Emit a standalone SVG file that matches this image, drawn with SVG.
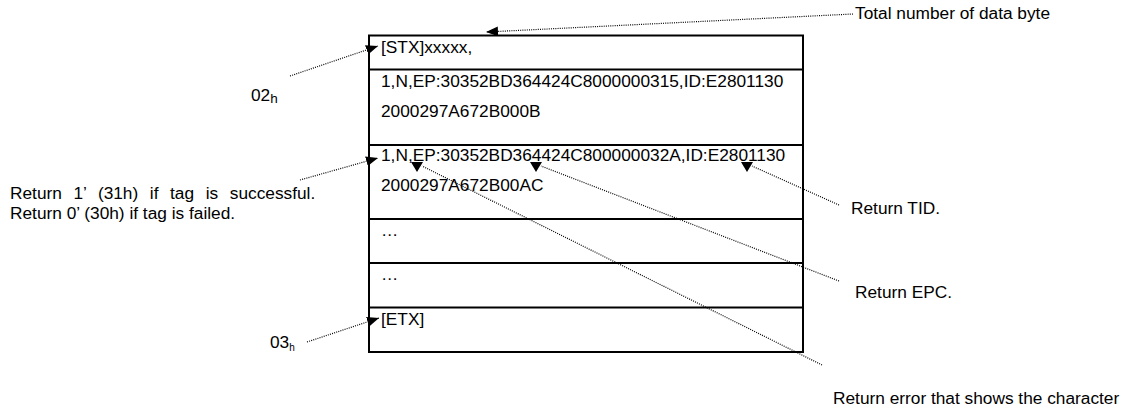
<svg xmlns="http://www.w3.org/2000/svg" width="1127" height="411" viewBox="0 0 1127 411">
<style>
text{font-family:"Liberation Sans",Arial,sans-serif;font-size:17.3px;fill:#000}
.box{fill:#fff;stroke:#000;stroke-width:2}
.div{stroke:#000;stroke-width:2}
.dot{fill:none;stroke:#000;stroke-width:1.2;stroke-dasharray:1 1.2}
</style>
<defs>
<marker id="ah" markerUnits="userSpaceOnUse" markerWidth="13" markerHeight="11" refX="12" refY="5" orient="auto">
<path d="M0,0 L12,5 L0,10 z" fill="#000"/>
</marker>
<marker id="ahdown" markerUnits="userSpaceOnUse" markerWidth="13" markerHeight="11" refX="11" refY="4" orient="0">
<path d="M0,0 L12,0 L6,10 z" fill="#000"/>
</marker>
</defs>
<rect width="1127" height="411" fill="#fff"/>
<g id="frame">
<rect class="box" x="369" y="35.5" width="434" height="316.5"/>
<line class="div" x1="369" y1="69.5" x2="803" y2="69.5"/>
<line class="div" x1="369" y1="145" x2="803" y2="145"/>
<line class="div" x1="369" y1="219" x2="803" y2="219"/>
<line class="div" x1="369" y1="263" x2="803" y2="263"/>
<line class="div" x1="369" y1="307.5" x2="803" y2="307.5"/>
</g>
<g id="row-stx"><text x="381" y="53">[STX]xxxxx,</text></g>
<g id="row-tag1"><text x="381" y="87">1,N,EP:30352BD364424C8000000315,ID:E2801130</text><text x="381" y="117">2000297A672B000B</text></g>
<g id="row-tag2"><text x="381" y="161">1,N,EP:30352BD364424C800000032A,ID:E2801130</text><text x="381" y="191">2000297A672B00AC</text></g>
<g id="row-dots1"><text x="381" y="236">…</text></g>
<g id="row-dots2"><text x="381" y="280">…</text></g>
<g id="row-etx"><text x="381" y="325">[ETX]</text></g>
<g id="label-total"><text x="855" y="19">Total number of data byte</text></g>
<g id="label-02h"><text x="251" y="101">02<tspan font-size="13.5px" dy="2">h</tspan></text></g>
<g id="label-03h"><text x="270" y="348">03<tspan font-size="10px" dy="3">h</tspan></text></g>
<g id="label-result"><text x="10" y="199" word-spacing="6.8">Return 1’ (31h) if tag is successful.</text><text x="10" y="219">Return 0’ (30h) if tag is failed.</text></g>
<g id="label-tid"><text x="851" y="214">Return TID.</text></g>
<g id="label-epc"><text x="855" y="298">Return EPC.</text></g>
<g id="label-error"><text x="833" y="404">Return error that shows the character</text></g>
<g id="connectors">
<line class="dot" x1="853" y1="14" x2="486" y2="32" marker-end="url(#ah)"/>
<line class="dot" x1="290" y1="76" x2="378" y2="46" marker-end="url(#ah)"/>
<line class="dot" x1="300" y1="180" x2="378" y2="158" marker-end="url(#ah)"/>
<line class="dot" x1="839" y1="205" x2="752" y2="166" marker-end="url(#ahdown)"/>
<line class="dot" x1="839" y1="281" x2="541" y2="166" marker-end="url(#ahdown)"/>
<line class="dot" x1="822" y1="365" x2="422" y2="166" marker-end="url(#ahdown)"/>
<line class="dot" x1="307" y1="342" x2="379" y2="318" marker-end="url(#ah)"/>
</g>
</svg>
